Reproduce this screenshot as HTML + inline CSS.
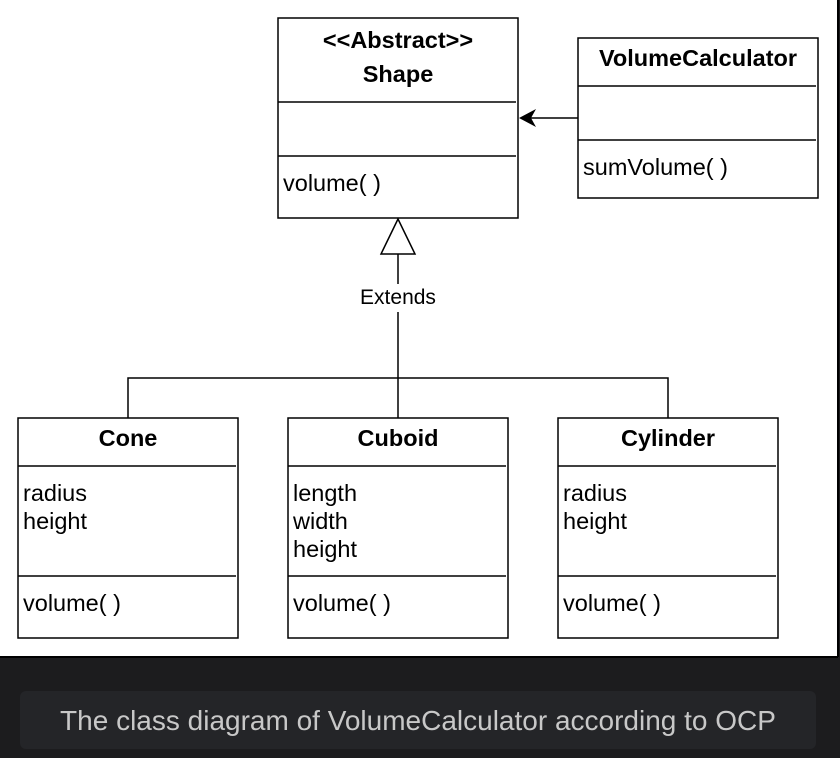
<!DOCTYPE html>
<html><head><style>
body{margin:0;width:840px;height:758px;background:#1c1c1e;overflow:hidden;font-family:"Liberation Sans",sans-serif}
</style></head><body>
<svg width="840" height="758" style="position:absolute;left:0;top:0">
<rect x="0" y="0" width="838" height="657" fill="#fff"/>
<line x1="838" y1="0" x2="838" y2="657" stroke="#000" stroke-width="2"/>
<line x1="0" y1="657" x2="838" y2="657" stroke="#000" stroke-width="2"/>
<g fill="#fff" stroke="#000" stroke-width="1.5">
<rect x="278" y="18" width="240" height="200"/>
<line x1="278" y1="102" x2="516" y2="102"/><line x1="278" y1="156" x2="516" y2="156"/>
<rect x="578" y="38" width="240" height="160"/>
<line x1="578" y1="86" x2="816" y2="86"/><line x1="578" y1="140" x2="816" y2="140"/>
<rect x="18" y="418" width="220" height="220"/>
<rect x="288" y="418" width="220" height="220"/>
<rect x="558" y="418" width="220" height="220"/>
<line x1="18" y1="466" x2="236" y2="466"/><line x1="18" y1="576" x2="236" y2="576"/>
<line x1="288" y1="466" x2="506" y2="466"/><line x1="288" y1="576" x2="506" y2="576"/>
<line x1="558" y1="466" x2="776" y2="466"/><line x1="558" y1="576" x2="776" y2="576"/>
<line x1="578" y1="118" x2="524" y2="118"/>
<line x1="398" y1="254" x2="398" y2="284"/>
<line x1="398" y1="312" x2="398" y2="418"/>
<polyline points="128,418 128,378 668,378 668,418" fill="none"/>
<polygon points="398,219 381,254 415,254"/>
</g>
<polygon points="519,118 536,109 531,118 536,127" fill="#000"/>
<g font-size="23.5" fill="#000">
<text x="398" y="48" text-anchor="middle" font-weight="bold">&lt;&lt;Abstract&gt;&gt;</text>
<text x="398" y="82" text-anchor="middle" font-weight="bold">Shape</text>
<text x="283" y="191">volume( )</text>
<text x="698" y="66" text-anchor="middle" font-weight="bold">VolumeCalculator</text>
<text x="583" y="175">sumVolume( )</text>
<text x="128" y="446" text-anchor="middle" font-weight="bold">Cone</text>
<text x="398" y="446" text-anchor="middle" font-weight="bold">Cuboid</text>
<text x="668" y="446" text-anchor="middle" font-weight="bold">Cylinder</text>
<text x="23" y="501">radius</text><text x="23" y="529">height</text>
<text x="23" y="611">volume( )</text>
<text x="293" y="501">length</text><text x="293" y="529">width</text><text x="293" y="557">height</text>
<text x="293" y="611">volume( )</text>
<text x="563" y="501">radius</text><text x="563" y="529">height</text>
<text x="563" y="611">volume( )</text>
<text x="398" y="304" text-anchor="middle" font-size="21">Extends</text>
</g>
<rect x="20" y="691" width="796" height="58" rx="6" fill="#242528"/>
<text x="418" y="730" text-anchor="middle" font-size="28" fill="#c8c8c8">The class diagram of VolumeCalculator according to OCP</text>
</svg>
</body></html>
